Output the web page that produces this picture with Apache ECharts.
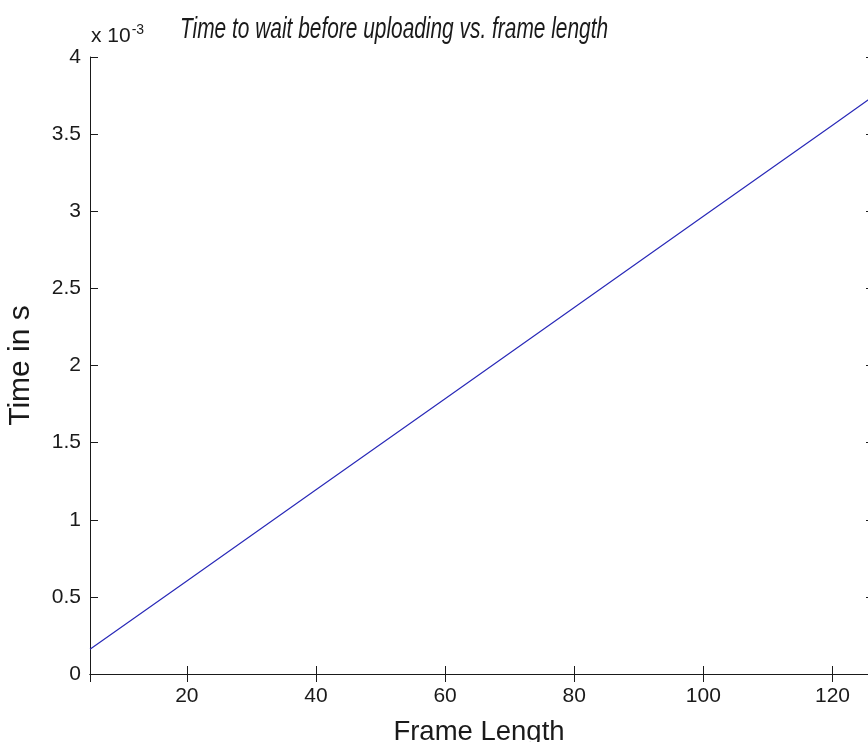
<!DOCTYPE html>
<html>
<head>
<meta charset="utf-8">
<script src="https://cdn.jsdelivr.net/npm/echarts@6/dist/echarts.min.js"></script>
<style>
html,body{margin:0;padding:0;background:#fff;}
#chart{width:868px;height:742px;}
</style>
</head>
<body>
<div id="chart"></div>
<script>
// Data (time in seconds)
var frameLength = [5, 20, 40, 60, 80, 100, 120, 126];
var timeSec = [0.000160, 0.000603, 0.001194, 0.001785, 0.002376, 0.002967, 0.003558, 0.003736];
var titleText = 'Time to wait before uploading vs. frame length';
var xName = 'Frame Length';
var yName = 'Time in s';
var xMin = 5, xMax = 125.5;
var yMin = 0, yMax = 0.004, yStep = 0.0005;

var pts = frameLength.map(function (x, i) { return [x, timeSec[i]]; });
var FONT = "'Liberation Sans', Arial, sans-serif";
var ink = '#1a1a1a';

function fmtY(v) { return String(parseFloat((v * 1000).toFixed(4))); }

var chart = echarts.init(document.getElementById('chart'), null, {renderer: 'canvas'});
var tickStyle = {show: true, inside: true, length: 8, lineStyle: {color: ink, width: 1}};
var lineStyle = {show: true, lineStyle: {color: ink, width: 1}};
chart.setOption({
  backgroundColor: '#ffffff',
  animation: false,
  graphic: [{
    type: 'text', x: 180, y: 15, scaleX: 0.72,
    style: {
      text: titleText,
      fontFamily: FONT, fontStyle: 'italic', fontSize: 29, fill: ink
    }
  }, {
    type: 'text', left: 91, top: 23,
    style: {
      text: '{a|x 10}{b|-3}',
      rich: {
        a: {fontFamily: FONT, fontSize: 21, fill: ink, verticalAlign: 'bottom', lineHeight: 24},
        b: {fontFamily: FONT, fontSize: 14, fill: ink, verticalAlign: 'top', lineHeight: 24, padding: [0, 0, 12, 1]}
      }
    }
  }],
  grid: {left: 90, right: 0, top: 57, bottom: 68, containLabel: false, outerBoundsMode: 'none'},
  xAxis: [{
    type: 'value', min: xMin, max: xMax, position: 'bottom',
    name: xName, nameLocation: 'middle', nameGap: 44,
    nameTextStyle: {fontFamily: FONT, fontSize: 27.5, color: ink},
    axisLine: lineStyle, axisTick: tickStyle, splitLine: {show: false},
    axisLabel: {fontFamily: FONT, fontSize: 21, color: ink, margin: 12, showMinLabel: false, showMaxLabel: false}
  }, {
    type: 'value', min: xMin, max: xMax, position: 'top',
    axisLine: lineStyle, axisTick: tickStyle, splitLine: {show: false},
    axisLabel: {show: false}
  }],
  yAxis: [{
    type: 'value', min: yMin, max: yMax, interval: yStep, position: 'left',
    name: yName, nameLocation: 'middle', nameGap: 54,
    nameTextStyle: {fontFamily: FONT, fontSize: 30, color: ink},
    axisLine: lineStyle, axisTick: tickStyle, splitLine: {show: false},
    axisLabel: {fontFamily: FONT, fontSize: 21, color: ink, margin: 9, formatter: fmtY}
  }, {
    type: 'value', min: yMin, max: yMax, interval: yStep, position: 'right', offset: 6,
    axisLine: lineStyle, axisTick: tickStyle, splitLine: {show: false},
    axisLabel: {show: false}
  }],
  series: [{
    type: 'line', data: pts, xAxisIndex: 0, yAxisIndex: 0,
    showSymbol: false, symbol: 'none', clip: true,
    lineStyle: {color: '#2a2ab8', width: 1.2}
  }]
});
</script>
</body>
</html>
